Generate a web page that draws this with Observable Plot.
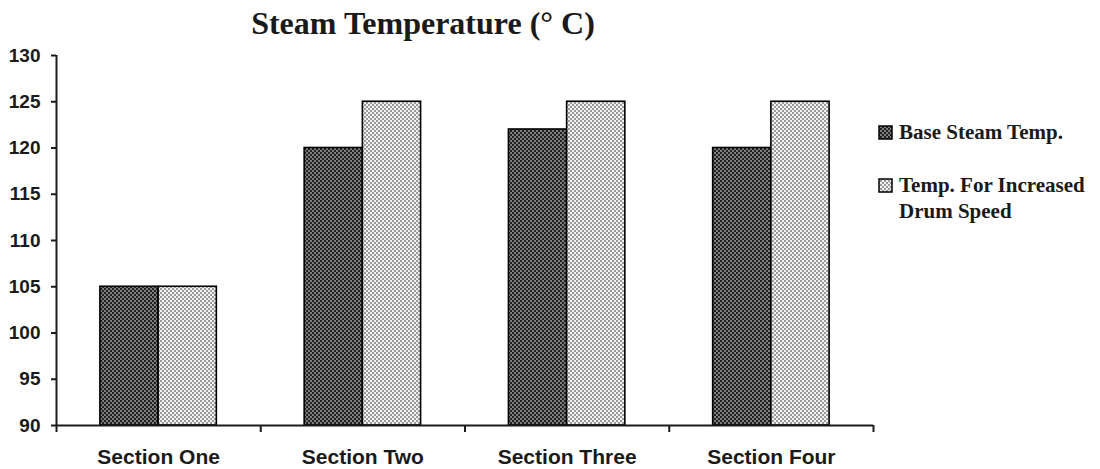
<!DOCTYPE html>
<html>
<head>
<meta charset="utf-8">
<script src="https://cdn.jsdelivr.net/npm/d3@7"></script>
<script src="https://cdn.jsdelivr.net/npm/@observablehq/plot@0.6"></script>
<style>
  html, body { margin: 0; padding: 0; background: #fff; }
  #chart { position: relative; width: 1100px; height: 469px; }
</style>
</head>
<body>
<div id="chart"></div>
<script>
// Steam temperature per drum section, two operating conditions
const sections = ["Section One", "Section Two", "Section Three", "Section Four"];
const baseTemp = [105, 120, 122, 120];
const increasedTemp = [105, 125, 125, 125];
const seriesNames = ["Base Steam Temp.", "Temp. For Increased", "Drum Speed"];
const yTicks = [90, 95, 100, 105, 110, 115, 120, 125, 130];

// each section occupies one unit of the x scale; the two bars sit side by side around its middle
const barStart = 0.215, barMid = 0.5, barEnd = 0.785;

const rows = sections.map((s, i) => ({
  section: s, i, base: baseTemp[i], increased: increasedTemp[i]
}));

const ink = "#1a1a1a";

const chart = Plot.plot({
  width: 1100,
  height: 469,
  marginLeft: 56,
  marginRight: 227,
  marginTop: 55,
  marginBottom: 44,
  style: {background: "#fff", color: ink},
  x: {domain: [0, sections.length], axis: null},
  y: {domain: [90, 130], axis: null},
  marks: [
    // base temperature bars (dark stipple)
    Plot.rect(rows, {
      x1: d => d.i + barStart, x2: d => d.i + barMid,
      y1: 90, y2: "base",
      fill: "url(#patDark)", stroke: "#000", strokeWidth: 1.6
    }),
    // increased drum speed bars (light stipple)
    Plot.rect(rows, {
      x1: d => d.i + barMid, x2: d => d.i + barEnd,
      y1: 90, y2: "increased",
      fill: "url(#patLight)", stroke: "#000", strokeWidth: 1.6
    }),
    // value axis
    Plot.ruleX([0], {stroke: ink, strokeWidth: 2}),
    Plot.axisY({
      ticks: yTicks, tickSize: 5, tickPadding: 11, tickFormat: d => d,
      fontSize: 19, fontWeight: "bold", fontFamily: "Liberation Sans, Arial, sans-serif",
      stroke: ink, strokeWidth: 2, fill: ink
    }),
    // category axis: boundary ticks and centred labels
    Plot.ruleY([90], {stroke: ink, strokeWidth: 2}),
    Plot.axisX({
      ticks: d3.range(0, sections.length + 1), tickSize: 7, tickFormat: () => "",
      stroke: ink, strokeWidth: 2
    }),
    Plot.text(rows, {
      x: d => d.i + 0.5, y: 90, text: "section", dy: 32,
      fontSize: 21, fontWeight: "bold", fontFamily: "Liberation Sans, Arial, sans-serif",
      fill: ink, textAnchor: "middle", lineAnchor: "middle"
    })
  ]
});

// stipple patterns used by the bars and legend swatches
const svg = d3.select(chart);
const defs = svg.insert("defs", ":first-child");
function stipple(id, bg, dot) {
  const p = defs.append("pattern").attr("id", id)
    .attr("patternUnits", "userSpaceOnUse").attr("width", 4).attr("height", 4);
  p.append("rect").attr("width", 4).attr("height", 4).attr("fill", bg);
  p.append("rect").attr("width", 2).attr("height", 2).attr("fill", dot);
  p.append("rect").attr("x", 2).attr("y", 2).attr("width", 2).attr("height", 2).attr("fill", dot);
}
stipple("patDark", "#7e7e7e", "#222");
stipple("patLight", "#f2f2f2", "#9a9a9a");

// title
svg.append("text")
  .attr("x", 423).attr("y", 34)
  .attr("text-anchor", "middle")
  .attr("font-family", "Liberation Serif, Times New Roman, serif")
  .attr("font-weight", "bold").attr("font-size", 32)
  .attr("fill", ink)
  .text("Steam Temperature (\u00B0 C)");

// legend
const legend = svg.append("g")
  .attr("text-anchor", "start")
  .attr("font-family", "Liberation Serif, Times New Roman, serif")
  .attr("font-weight", "bold").attr("font-size", 21).attr("fill", ink);
const entries = [
  {pat: "patDark", lines: [seriesNames[0]], y: 139},
  {pat: "patLight", lines: [seriesNames[1], seriesNames[2]], y: 192}
];
for (const e of entries) {
  legend.append("rect")
    .attr("x", 879).attr("y", e.y - 13).attr("width", 13).attr("height", 13)
    .attr("fill", `url(#${e.pat})`).attr("stroke", "#000").attr("stroke-width", 1.5);
  e.lines.forEach((t, k) => {
    legend.append("text").attr("x", 899).attr("y", e.y + k * 26).text(t);
  });
}

document.getElementById("chart").appendChild(chart);
</script>
</body>
</html>
